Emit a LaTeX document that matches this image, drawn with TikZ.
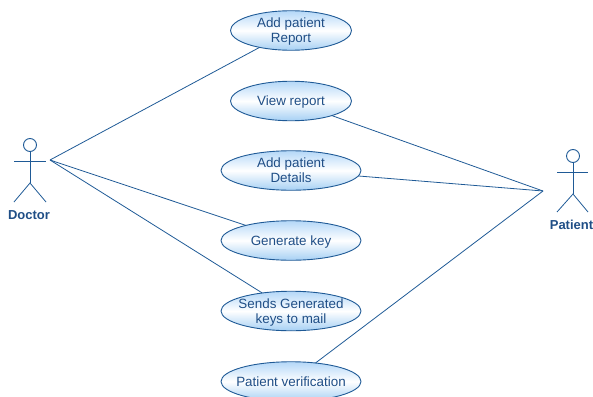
\documentclass[tikz,border=0pt]{standalone}
\usepackage{fontspec}
\setmainfont{Liberation Sans}
\usetikzlibrary{shapes.geometric}
\definecolor{umlline}{HTML}{1F5A96}
\definecolor{umltext}{HTML}{1F4E86}
\definecolor{umltop}{HTML}{B4D8F8}
\definecolor{umlbottom}{HTML}{A6D0F4}
\tikzstyle{usecase}=[ellipse, draw=umlline, line width=0.9pt, inner xsep=-30pt, inner ysep=-10pt, outer sep=0, align=center,
                     text=umltext, text depth=0pt, font=\fontsize{13.4}{15}\selectfont,
                     top color=umltop, bottom color=umlbottom, middle color=white]
\tikzstyle{smallcase}=[usecase, minimum width=121, minimum height=39.5]
\tikzstyle{widecase}=[usecase, minimum width=140, minimum height=39.5]
\tikzstyle{actorhead}=[circle, draw=umlline, line width=0.9pt, inner sep=0, outer sep=0, minimum size=13]
\tikzstyle{actorname}=[text=umltext, inner sep=0, font=\fontsize{13}{15}\selectfont\bfseries]
\tikzstyle{limb}=[draw=umlline, line width=0.8pt]
\tikzstyle{link}=[draw=umlline, line width=0.8pt]

\begin{document}
\begin{tikzpicture}[x=1pt, y=-1pt]
        \useasboundingbox (0, 0) rectangle (593, 396);
        \clip (0, 0) rectangle (593, 396);
        \node[smallcase] (report) at (291, 30.5) {Add patient\\Report};
        \node[smallcase] (view) at (291, 101) {View report};
        \node[widecase]  (details) at (291, 170.5) {Add patient\\Details};
        \node[widecase]  (key) at (291, 240.5) {Generate key};
        \node[widecase]  (mail) at (291, 311) {Sends Generated\\keys to mail};
        \node[widecase]  (verify) at (291, 381.5) {Patient verification};
        % Doctor
        \node[actorhead] (dhead) at (30, 145) {};
        \coordinate (dhip) at (30, 183);
        \coordinate (dlink) at (50, 160);
        \draw[limb] (dhead.south) -- (dhip);
        \draw[limb] (14, 161.5) -- (46, 161.5);
        \draw[limb] (14, 202) -- (dhip) -- (46, 202);
        \node[actorname] (dname) at (29, 215.5) {Doctor};
        % Patient
        \node[actorhead] (phead) at (573, 156) {};
        \coordinate (phip) at (573, 194);
        \coordinate (plink) at (543, 191);
        \draw[limb] (phead.south) -- (phip);
        \draw[limb] (557, 172) -- (588, 172);
        \draw[limb] (557, 212) -- (phip) -- (588, 212);
        \node[actorname] (pname) at (571.5, 224.5) {Patient};
        % Links
        \draw[link] (dlink) -- (report);
        \draw[link] (dlink) -- (key);
        \draw[link] (dlink) -- (mail);
        \draw[link] (plink) -- (view);
        \draw[link] (plink) -- (details);
        \draw[link] (plink) -- (verify);
    \end{tikzpicture}
\end{document}
